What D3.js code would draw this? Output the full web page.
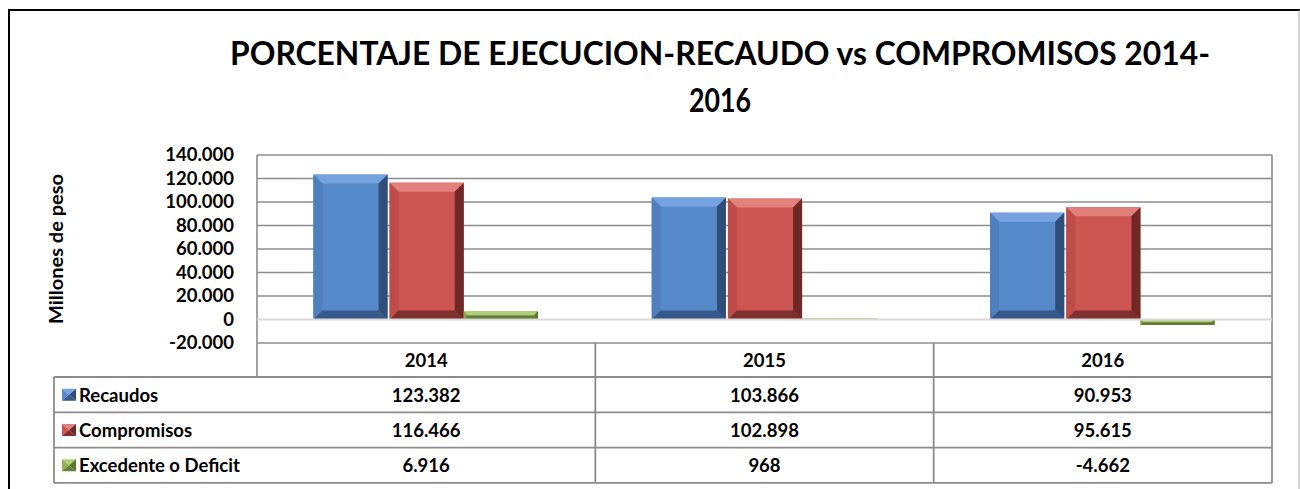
<!DOCTYPE html>
<html>
<head>
<meta charset="utf-8">
<script src="https://cdn.jsdelivr.net/npm/d3@7"></script>
<style>
  body { margin: 0; background: #fff; }
  text { font-family: Lato, "Liberation Sans", sans-serif; font-weight: 700; fill: #000; }
</style>
</head>
<body>
<div id="chart"></div>
<script>
const years = ["2014", "2015", "2016"];
const seriesNames = ["Recaudos", "Compromisos", "Excedente o Deficit"];
const recaudos = [123382, 103866, 90953];
const compromisos = [116466, 102898, 95615];
const excedente = [6916, 968, -4662];
const yTicks = [-20000, 0, 20000, 40000, 60000, 80000, 100000, 120000, 140000];

const width = 1300, height = 489;
const plot = { left: 257, right: 1272, top: 155, bottom: 343 };
const tableLeft = 54, headerBottom = 377, rowH = 35.3;
const gridColor = "#8c8c8c";
const fs = 18.5;

// face, top, left, right, bottom
const palette = [
  ["#5689ca", "#76a3df", "#4f7fbd", "#2f4f7a", "#36588a"],
  ["#cd5552", "#e2807c", "#bf4c49", "#6e2826", "#7d302e"],
  ["#8fb150", "#b0cf78", "#86a74a", "#5a7530", "#617d36"]
];

const loc = d3.formatLocale({ decimal: ",", thousands: ".", grouping: [3], currency: ["", ""], minus: "-" });
const fmt = loc.format(",d");

const svg = d3.select("#chart").append("svg").attr("width", width).attr("height", height);

// outer frame
svg.append("path").attr("d", `M9,${height} V10 H${width}`).attr("fill", "none").attr("stroke", "#000").attr("stroke-width", 2);
svg.append("line").attr("x1", 1299).attr("x2", 1299).attr("y1", 10).attr("y2", height).attr("stroke", "#aaa").attr("stroke-width", 1);

// title
svg.append("text").attr("x", 720).attr("y", 65).attr("text-anchor", "middle")
  .attr("font-size", 32).attr("textLength", 980).attr("lengthAdjust", "spacingAndGlyphs")
  .text("PORCENTAJE DE EJECUCION-RECAUDO vs COMPROMISOS 2014-");
svg.append("text").attr("x", 720).attr("y", 112).attr("text-anchor", "middle")
  .attr("font-size", 32).attr("textLength", 62).attr("lengthAdjust", "spacingAndGlyphs")
  .text("2016");

const y = d3.scaleLinear().domain([-20000, 140000]).range([plot.bottom, plot.top]);
const x0 = d3.scaleBand().domain(years).range([plot.left, plot.right]);
const x1 = d3.scaleBand().domain(seriesNames).range([0, x0.bandwidth()]).paddingOuter(0.75);

// gridlines
svg.append("g").selectAll("line").data(yTicks.filter(d => d !== 0)).join("line")
  .attr("x1", plot.left).attr("x2", plot.right)
  .attr("y1", d => y(d)).attr("y2", d => y(d))
  .attr("stroke", gridColor).attr("stroke-width", 1.6);

// plot area sides
svg.append("line").attr("x1", plot.left).attr("x2", plot.left).attr("y1", plot.top).attr("y2", headerBottom)
  .attr("stroke", gridColor).attr("stroke-width", 1.6);
svg.append("line").attr("x1", plot.right).attr("x2", plot.right).attr("y1", plot.top).attr("y2", plot.bottom)
  .attr("stroke", gridColor).attr("stroke-width", 1.6);

// y axis
const yAxis = svg.append("g").attr("transform", `translate(${plot.left - 8},0)`)
  .call(d3.axisLeft(y).tickValues(yTicks).tickFormat(d => d === 0 ? "0" : fmt(d)).tickSize(0).tickPadding(15));
yAxis.select(".domain").remove();
yAxis.selectAll("text").attr("font-size", fs).attr("font-family", "Lato, sans-serif").attr("font-weight", 700).attr("fill", "#000");

svg.append("text").attr("transform", "translate(63,249) rotate(-90)").attr("text-anchor", "middle")
  .attr("font-size", 19).attr("textLength", 150).attr("lengthAdjust", "spacingAndGlyphs").text("Millones de peso");

// bevelled bars
function bevel(g, bx, by, bw, bh, cols) {
  const b = Math.min(9, bw / 2, bh / 2);
  const x2 = bx + bw, y2 = by + bh;
  g.append("rect").attr("x", bx).attr("y", by).attr("width", bw).attr("height", bh).attr("fill", cols[0]);
  const polys = [
    [[bx, by], [x2, by], [x2 - b, by + b], [bx + b, by + b], cols[1]],
    [[bx, by], [bx + b, by + b], [bx + b, y2 - b], [bx, y2], cols[2]],
    [[x2, by], [x2, y2], [x2 - b, y2 - b], [x2 - b, by + b], cols[3]],
    [[bx, y2], [bx + b, y2 - b], [x2 - b, y2 - b], [x2, y2], cols[4]]
  ];
  polys.forEach(p => g.append("polygon").attr("points", p.slice(0, 4).map(q => q.join(",")).join(" ")).attr("fill", p[4]));
}

const seriesValues = [recaudos, compromisos, excedente];
const bars = svg.append("g");
seriesValues.forEach((vals, si) => {
  vals.forEach((v, i) => {
    const bx = x0(years[i]) + x1(seriesNames[si]) + (si === 1 ? 1 : 0);
    const top = y(Math.max(0, v)), bot = y(Math.min(0, v));
    bevel(bars.append("g"), bx, top, x1.bandwidth() - 1, Math.max(1, bot - top), palette[si]);
  });
});

// zero line
svg.append("line").attr("x1", plot.left).attr("x2", plot.right).attr("y1", y(0)).attr("y2", y(0))
  .attr("stroke", "#d9d9d9").attr("stroke-width", 2);

// data table
const tbl = svg.append("g");
const tableBottom = headerBottom + rowH * 3;
years.forEach(yr => {
  tbl.append("line").attr("x1", x0(yr) + x0.bandwidth()).attr("x2", x0(yr) + x0.bandwidth())
    .attr("y1", plot.bottom).attr("y2", tableBottom).attr("stroke", gridColor).attr("stroke-width", 1.8);
  tbl.append("text").attr("x", x0(yr) + x0.bandwidth() / 2).attr("y", (plot.bottom + headerBottom) / 2 + 7)
    .attr("text-anchor", "middle").attr("font-size", fs).text(yr);
});
[headerBottom, headerBottom + rowH, headerBottom + rowH * 2, tableBottom].forEach(ly => {
  tbl.append("line").attr("x1", tableLeft).attr("x2", plot.right).attr("y1", ly).attr("y2", ly)
    .attr("stroke", gridColor).attr("stroke-width", 1.8);
});
tbl.append("line").attr("x1", tableLeft).attr("x2", tableLeft).attr("y1", headerBottom).attr("y2", tableBottom)
  .attr("stroke", gridColor).attr("stroke-width", 1.8);

seriesNames.forEach((name, si) => {
  const cy = headerBottom + rowH * si + rowH / 2;
  const kx = 62, ky = cy - 6, k = 14;
  const c = palette[si];
  const g = tbl.append("g");
  const m = [kx + k / 2, ky + 6];
  [[[kx, ky], [kx + k, ky], c[1]], [[kx, ky], [kx, ky + 12], c[0]], [[kx + k, ky], [kx + k, ky + 12], c[3]], [[kx, ky + 12], [kx + k, ky + 12], c[4]]]
    .forEach(t => g.append("polygon").attr("points", [t[0], t[1], m].map(q => q.join(",")).join(" ")).attr("fill", t[2]));
  tbl.append("text").attr("x", 79).attr("y", cy + 7).attr("font-size", fs).text(name);
  seriesValues[si].forEach((v, i) => {
    tbl.append("text").attr("x", x0(years[i]) + x0.bandwidth() / 2).attr("y", cy + 7)
      .attr("text-anchor", "middle").attr("font-size", fs).text(fmt(v));
  });
});
</script>
</body>
</html>
